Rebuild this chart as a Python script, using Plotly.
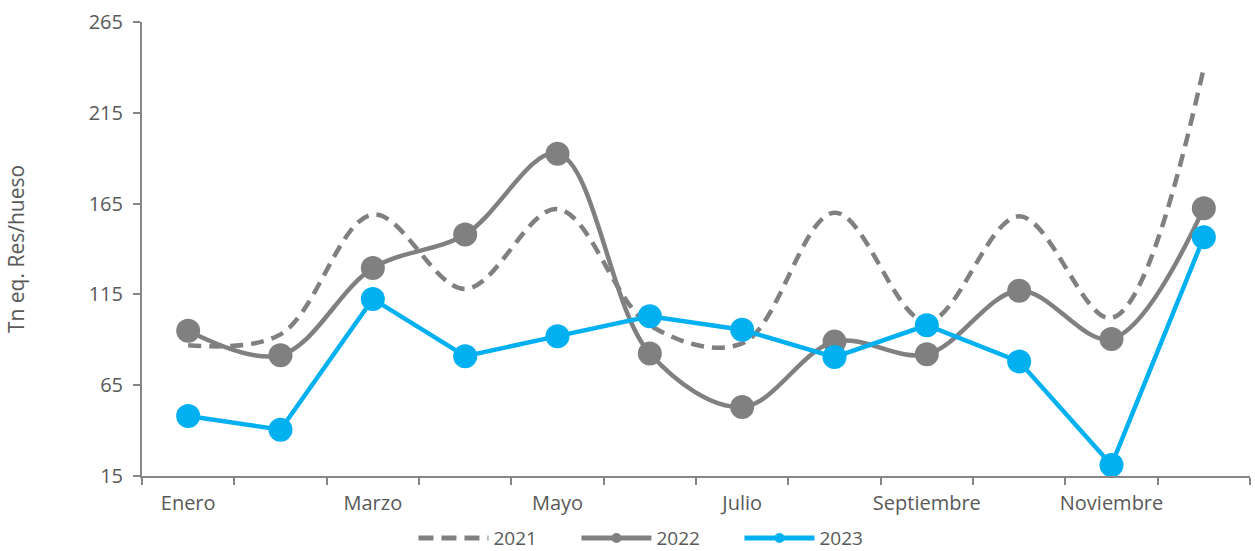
import plotly.graph_objects as go

months = ["Enero", "Febrero", "Marzo", "Abril", "Mayo", "Junio", "Julio",
          "Agosto", "Septiembre", "Octubre", "Noviembre", "Diciembre"]
tick_text = ["Enero", "", "Marzo", "", "Mayo", "", "Julio", "", "Septiembre", "", "Noviembre", ""]

y2021 = [87, 93, 159, 118, 162, 98, 88, 160, 100, 158, 102, 240]
y2022 = [95, 81.5, 129.5, 148, 192.5, 82.5, 53, 89, 82, 117, 90.5, 162.5]
y2023 = [48, 40.5, 112.5, 81, 92, 103, 95.5, 80.5, 98, 78, 21, 146.5]
y_ticks = [15, 65, 115, 165, 215, 265]

GRAY = "#808080"
BLUE = "#00B0F0"
TXT = "#595959"
FONT = "Open Sans"
DASH = "13px,8px"

fig = go.Figure()
fig.add_trace(go.Scatter(x=months, y=y2021, mode="lines", name="2021",
                         line=dict(color=GRAY, width=4.5, dash=DASH, shape="spline", smoothing=1),
                         showlegend=False))
fig.add_trace(go.Scatter(x=months, y=y2022, mode="lines+markers", name="2022",
                         line=dict(color=GRAY, width=4.5, shape="spline", smoothing=1),
                         marker=dict(color=GRAY, size=24), showlegend=False))
fig.add_trace(go.Scatter(x=months, y=y2023, mode="lines+markers", name="2023",
                         line=dict(color=BLUE, width=4.5),
                         marker=dict(color=BLUE, size=24), showlegend=False))

# legend entries (smaller symbols like the original)
fig.add_trace(go.Scatter(x=[None], y=[None], mode="lines", name="2021",
                         line=dict(color=GRAY, width=5, dash="15px,8px")))
fig.add_trace(go.Scatter(x=[None], y=[None], mode="lines+markers", name="2022",
                         line=dict(color=GRAY, width=5), marker=dict(color=GRAY, size=10)))
fig.add_trace(go.Scatter(x=[None], y=[None], mode="lines+markers", name="2023",
                         line=dict(color=BLUE, width=5), marker=dict(color=BLUE, size=10)))

fig.update_layout(
    width=1255, height=551,
    margin=dict(l=142, r=5, t=22, b=75, autoexpand=False),
    paper_bgcolor="white", plot_bgcolor="white",
    font=dict(family=FONT, color=TXT, size=19),
    showlegend=True,
    legend=dict(orientation="h", x=0.245, xanchor="left", y=-0.137, yanchor="middle",
                font=dict(size=19, color=TXT), itemwidth=70, tracegroupgap=0,
                entrywidth=78, entrywidthmode="pixels",
                bgcolor="rgba(0,0,0,0)"),
)
fig.update_xaxes(type="category", categoryorder="array", categoryarray=months,
                 tickmode="array", tickvals=months, ticktext=tick_text, tickangle=0,
                 tickson="boundaries", ticks="outside", ticklen=7, tickwidth=2, tickcolor="#868686",
                 showline=True, linecolor="#868686", linewidth=2, showgrid=False, zeroline=False,
                 tickfont=dict(size=20, color=TXT), ticklabelstandoff=8,
                 range=[-0.5, 11.5], automargin=False)
fig.update_yaxes(range=[15, 265], tickmode="array", tickvals=y_ticks,
                 ticks="outside", ticklen=7, tickwidth=2, tickcolor="#868686",
                 showline=True, linecolor="#868686", linewidth=2, showgrid=False, zeroline=False,
                 tickfont=dict(size=20, color=TXT), ticklabelstandoff=6, automargin=False,
                 title=dict(text="Tn eq. Res/hueso", font=dict(size=21, color=TXT), standoff=58))

fig.write_html("out.html", config={"displayModeBar": False},
               post_script="document.body.style.margin='0px';")
